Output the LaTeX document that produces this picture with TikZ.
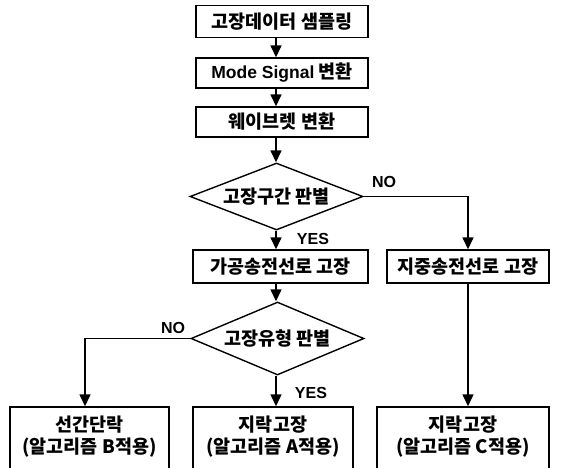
\documentclass[tikz,border=0pt]{standalone}
\usepackage{fontspec}
\setmainfont{Noto Sans CJK KR}
\newfontfamily\latinfont{Liberation Sans}
\usetikzlibrary{shapes.geometric,arrows.meta}
\tikzset{
  box/.style={draw, line width=1.4pt, rectangle, inner sep=0pt, font=\fontsize{18.5}{20}\selectfont\bfseries},
  dec/.style={draw, line width=1.4pt, diamond, inner sep=0pt, font=\fontsize{18.5}{20}\selectfont\bfseries},
  txt/.style={inner sep=0pt, align=center, font=\fontsize{18.5}{22}\selectfont\bfseries},
  lbl/.style={inner sep=0pt, font=\fontsize{16}{17}\selectfont\latinfont\bfseries},
  arr/.style={line width=1.4pt, -{Triangle[length=12pt, width=11pt]}},
}
\begin{document}
\begin{tikzpicture}[x=1pt, y=-1pt]
\useasboundingbox (0,0) rectangle (568,467);
\coordinate (ax) at (276,0);
\coordinate (lx) at (85,0);
\node[box, minimum width=172pt, minimum height=32pt] (b1) at (282,21.5) {고장데이터 샘플링};
\node[box, minimum width=172pt, minimum height=30pt] (b2) at (282,73) {{\latinfont\fontsize{17.5}{18}\selectfont\bfseries Mode Signal} 변환};
\node[box, minimum width=172pt, minimum height=30pt] (b3) at (282,122) {웨이브렛 변환};
\node[dec, aspect=2.58, minimum width=173pt, minimum height=67pt] (d1) at (276.5,196.5) {고장구간 판별};
\node[box, minimum width=175pt, minimum height=33pt] (b4) at (280.5,266.5) {가공송전선로 고장};
\node[box, minimum width=162pt, minimum height=33pt] (b5) at (468,266.5) {지중송전선로 고장};
\node[dec, aspect=2.35, minimum width=173pt, minimum height=73pt] (d2) at (277.5,338.5) {고장유형 판별};
\node[box, minimum width=159pt, minimum height=66pt] (bB) at (89.5,440) {};
\node[box, minimum width=160pt, minimum height=66pt] (bA) at (273,440) {};
\node[box, minimum width=172pt, minimum height=66pt] (bC) at (463,440) {};
\node[txt] (tB) at (89.5,437) {선간단락\\(알고리즘 B적용)};
\node[txt] (tA) at (273,437) {지락고장\\(알고리즘 A적용)};
\node[txt] (tC) at (463,437) {지락고장\\(알고리즘 C적용)};
\node[lbl] (no1) at (384,182) {NO};
\node[lbl] (yes1) at (313,239) {YES};
\node[lbl] (no2) at (173,328) {NO};
\node[lbl] (yes2) at (311,393) {YES};
\draw[arr] (b1.south -| ax) -- (b2.north -| ax);
\draw[arr] (b2.south -| ax) -- (b3.north -| ax);
\draw[arr] (b3.south -| ax) -- (d1.north -| ax);
\draw[arr] (d1.south -| ax) -- (b4.north -| ax);
\draw[arr] (d1.east) -| (b5.north);
\draw[arr] (b4.south -| ax) -- (d2.north -| ax);
\draw[arr] (d2.south -| ax) -- (bA.north -| ax);
\draw[arr] (d2.west) -| (bB.north -| lx);
\draw[arr] (b5.south) -- (bC.north -| b5.south);
\end{tikzpicture}
\end{document}
